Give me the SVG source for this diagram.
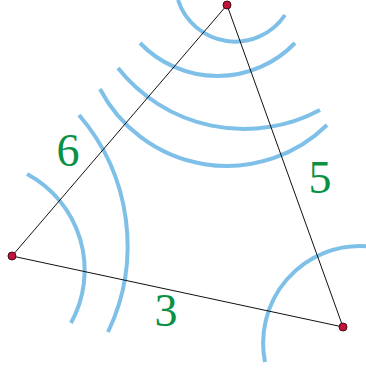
<svg xmlns="http://www.w3.org/2000/svg" width="366" height="372" viewBox="0 0 366 372">
<style>
.arc{fill:none;stroke:#7fc0e8;stroke-width:4}
.edge{fill:none;stroke:#111;stroke-width:1}
.pt{fill:#c0143c;stroke:#4a0a14;stroke-width:1}
.lbl{font-family:"Liberation Serif","Times New Roman",serif;font-size:46px;fill:#0a9145;text-anchor:middle}
</style>
<rect width="366" height="372" fill="#fff"/>
<g id="waves">
<path class="arc" d="M178,0 A60,60 0 0 0 285,15"/>
<path class="arc" d="M140,43 A107.5,107.5 0 0 0 295,43"/>
<path class="arc" d="M118,68 A161,161 0 0 0 320,110"/>
<path class="arc" d="M100,89 A143,143 0 0 0 327,125"/>
<path class="arc" d="M27,174 A109,109 0 0 1 71,323"/>
<path class="arc" d="M79,115 A200,200 0 0 1 108,332"/>
<path class="arc" d="M265,362 A97,97 0 0 1 366,246.2"/>
</g>
<g id="connectors">
<line class="edge" x1="227" y1="5" x2="12" y2="256"/>
<line class="edge" x1="227" y1="5" x2="343" y2="327"/>
<line class="edge" x1="12" y1="256" x2="343" y2="327"/>
</g>
<g id="node-top"><circle class="pt" cx="227" cy="5" r="4"/></g>
<g id="node-left"><circle class="pt" cx="12" cy="256" r="4"/></g>
<g id="node-right"><circle class="pt" cx="343" cy="327" r="4"/></g>
<g id="labels">
<text class="lbl" x="68" y="166">6</text>
<text class="lbl" x="320" y="193">5</text>
<text class="lbl" x="166" y="326">3</text>
</g>
</svg>
